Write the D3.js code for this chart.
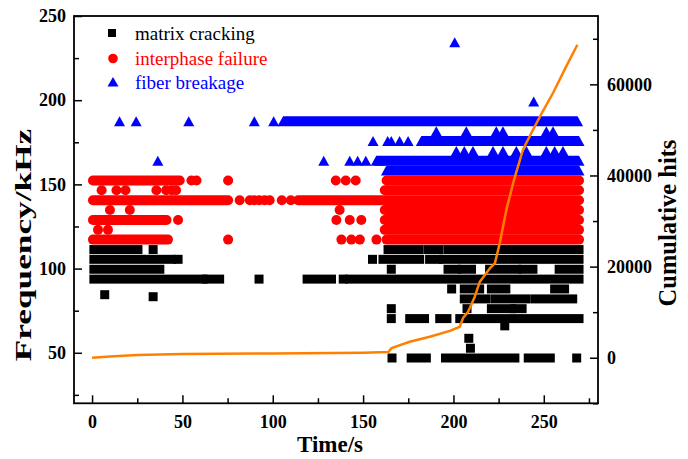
<!DOCTYPE html>
<html>
<head>
<meta charset="utf-8">
<script src="https://cdn.jsdelivr.net/npm/d3@7"></script>
<style>
  body { margin: 0; background: #fff; }
  svg { display: block; font-family: "Liberation Serif", "Times New Roman", serif; }
</style>
</head>
<body>
<div id="chart"></div>
<script>
// frequency bands are quantised, runs are [freq, tStart, tEnd] of overlapping markers
var matrixRuns = [
  [111.3, 1, 25.4], [105.5, 1, 44], [99.6, 1, 37.5], [93.75, 1, 61.5], [93.75, 63.3, 70.6],
  [93.75, 119, 132.5], [93.75, 142.6, 269.5],
  [111.3, 163.8, 181], [111.3, 186, 192], [111.3, 197, 269.5],
  [105.5, 161, 181.3], [105.5, 186.8, 191.5], [105.5, 194.5, 269.5],
  [99.6, 197, 201.5], [99.6, 205, 210], [99.6, 220, 235], [99.6, 238.5, 244], [99.6, 258.5, 269.5],
  [87.9, 206, 214.5], [87.9, 221, 229], [87.9, 256, 261.5],
  [82.0, 206, 218], [82.0, 223, 240], [82.0, 245, 266],
  [76.2, 221, 232], [76.2, 234, 238],
  [70.3, 175.8, 184], [70.3, 192.4, 196.4], [70.3, 203.5, 269.5],
  [46.9, 176.6, 185], [46.9, 195.6, 234], [46.9, 241.4, 253.6]
];
var matrixPoints = [
  [33.8, 111.3], [47.6, 105.5], [92.4, 93.75], [139, 93.75], [155.2, 105.5],
  [7, 84.5], [33.8, 83.3], [165.6, 99.6], [199, 87.9], [207.5, 76.2],
  [165.6, 76.2], [165.6, 70.3], [228.4, 66], [208.5, 58.6], [209.4, 52.7],
  [166, 46.9], [268.2, 46.9]
];

var interphaseRuns = [
  [152.3, 0.5, 48.5], [140.6, 0.5, 75.3], [128.9, 0.5, 41.2], [117.2, 0.5, 42],
  [140.6, 114, 269.5],
  [152.3, 163, 269.5], [146.5, 162, 269.5], [134.8, 162, 269.5],
  [128.9, 162, 269.5], [123.0, 162, 269.5], [117.2, 163, 269.5]
];
var interphasePoints = [
  [55, 152.3], [57.8, 152.3], [75.3, 152.3], [134.9, 152.3], [140.4, 152.3], [145.9, 152.3],
  [5.3, 146.5], [13.5, 146.5], [18.5, 146.5], [35.6, 146.5], [41, 146.5], [44, 146.5], [46.5, 146.5],
  [81.7, 140.6], [87.3, 140.6], [89.8, 140.6], [92.5, 140.6], [95.5, 140.6], [98.3, 140.6], [105, 140.6], [110, 140.6],
  [9.9, 134.8], [20.9, 134.8], [137, 134.8],
  [47.6, 128.9], [135.2, 128.9], [142.6, 128.9], [149, 128.9],
  [3.3, 123.0], [8.8, 123.0],
  [75.3, 117.2], [138, 117.2], [143.5, 117.2], [148.2, 117.2], [157.4, 117.2]
];

var fiberRuns = [
  [187.5, 105.7, 268.7],
  [175.8, 182.2, 269.5],
  [164.1, 157.3, 269.5],
  [158.2, 162.9, 269.5]
];
var fiberPoints = [
  [15.2, 187.5], [24.4, 187.5], [53.5, 187.5], [89.8, 187.5], [100.5, 187.5],
  [36.4, 164.1], [128.2, 164.1], [142.6, 164.1], [147, 164.1], [151.5, 164.1], [159.2, 164.1],
  [155.5, 175.8], [163.6, 175.8], [165.6, 175.8], [170.2, 175.8], [174.9, 175.8],
  [190.5, 181.6], [207.1, 181.6], [223.7, 181.6], [227.4, 181.6], [251.4, 181.6], [255.1, 181.6],
  [201.6, 169.9], [206, 169.9], [210.8, 169.9], [221.9, 169.9], [227.4, 169.9],
  [234.8, 169.9], [240.4, 169.9], [251.4, 169.9], [256, 169.9], [260.6, 169.9],
  [200.7, 234.4], [244.4, 199.2]
];

// cumulative hits curve
var hitTime  = [0, 10, 25, 50, 100, 150, 164, 165.7, 175.8, 186.9, 198, 203.5, 205.3, 208.1, 211.8, 214.6,
                220.1, 222.9, 225.6, 229.3, 233, 238.5, 244, 249.6, 255.1, 262.5, 268.6];
var hitCount = [0, 250, 600, 800, 950, 1100, 1250, 2100, 3500, 4600, 5900, 6800, 8700, 10100, 13400, 16700,
                19600, 20700, 25100, 32500, 38300, 45700, 50000, 54200, 58100, 64000, 68700];

var xTicks = [0, 50, 100, 150, 200, 250];
var yTicks = [50, 100, 150, 200, 250];
var y2Ticks = [0, 20000, 40000, 60000];

var legendLabels = ["matrix cracking", "interphase failure", "fiber breakage"];
var legendColors = ["#000000", "#ff0000", "#0000ff"];

var W = 688, H = 459;
var margin = {top: 16, right: 598, bottom: 403.3, left: 74}; // plot frame edges in px

var x = d3.scaleLinear().domain([-10, 280]).range([margin.left, margin.right]);
var y = d3.scaleLinear().domain([20, 250]).range([margin.bottom, margin.top]);
var y2 = d3.scaleLinear().domain([-10000, 75000]).range([margin.bottom, margin.top]);

var svg = d3.select("#chart").append("svg")
  .attr("width", W)
  .attr("height", H);

var sq = 9, cr = 5, tw = 11, th = 10;

// matrix cracking squares
var gM = svg.append("g").attr("fill", "#000");
gM.selectAll(".run").data(matrixRuns).enter().append("rect")
  .attr("x", d => x(d[1]) - sq / 2)
  .attr("y", d => y(d[0]) - sq / 2)
  .attr("width", d => x(d[2]) - x(d[1]) + sq)
  .attr("height", sq);
gM.selectAll(".pt").data(matrixPoints).enter().append("rect")
  .attr("x", d => x(d[0]) - sq / 2)
  .attr("y", d => y(d[1]) - sq / 2)
  .attr("width", sq)
  .attr("height", sq);

// interphase failure circles
var gI = svg.append("g").attr("fill", "#ff0000");
gI.selectAll(".run").data(interphaseRuns).enter().append("rect")
  .attr("x", d => x(d[1]) - cr)
  .attr("y", d => y(d[0]) - cr)
  .attr("width", d => x(d[2]) - x(d[1]) + 2 * cr)
  .attr("height", 2 * cr)
  .attr("rx", cr);
gI.selectAll(".pt").data(interphasePoints).enter().append("circle")
  .attr("cx", d => x(d[0]))
  .attr("cy", d => y(d[1]))
  .attr("r", cr);

// fiber breakage triangles
function triRun(t0, t1, f) {
  var x0 = x(t0), x1 = x(t1), yc = y(f);
  return `M${x0 - tw / 2},${yc + th / 2}L${x0},${yc - th / 2}L${x1},${yc - th / 2}L${x1 + tw / 2},${yc + th / 2}Z`;
}
var gF = svg.append("g").attr("fill", "#0000ff");
gF.selectAll(".run").data(fiberRuns).enter().append("path")
  .attr("d", d => triRun(d[1], d[2], d[0]));
gF.selectAll(".pt").data(fiberPoints).enter().append("path")
  .attr("d", d => triRun(d[0], d[0], d[1]));

// cumulative hits
var line = d3.line()
  .x((d, i) => x(hitTime[i]))
  .y(d => y2(d));
svg.append("path")
  .datum(hitCount)
  .attr("fill", "none")
  .attr("stroke", "#ff8000")
  .attr("stroke-width", 2.5)
  .attr("stroke-linejoin", "round")
  .attr("d", line);

// frame and axes
var axisStyle = g => {
  g.select(".domain").remove();
  g.selectAll("line").attr("stroke", "#000").attr("stroke-width", 1.5);
  g.selectAll("text").attr("font-size", 18).attr("font-weight", "bold")
    .attr("font-family", "Liberation Serif, Times New Roman, serif").attr("fill", "#000");
};

svg.append("g")
  .attr("transform", `translate(0,${margin.bottom})`)
  .call(d3.axisBottom(x).tickValues(d3.range(25, 280, 50)).tickSize(-5).tickFormat(""))
  .call(axisStyle);
svg.append("g")
  .attr("transform", `translate(0,${margin.bottom})`)
  .call(d3.axisBottom(x).tickValues(xTicks).tickSize(-8).tickPadding(12))
  .call(axisStyle);

svg.append("g")
  .attr("transform", `translate(${margin.left},0)`)
  .call(d3.axisLeft(y).tickValues(d3.range(25, 250, 50)).tickSize(-5).tickFormat(""))
  .call(axisStyle);
svg.append("g")
  .attr("transform", `translate(${margin.left},0)`)
  .call(d3.axisLeft(y).tickValues(yTicks).tickSize(-8).tickPadding(8))
  .call(axisStyle);

svg.append("g")
  .attr("transform", `translate(${margin.right},0)`)
  .call(d3.axisRight(y2).tickValues([-10000, 10000, 30000, 50000, 70000]).tickSize(-5).tickFormat(""))
  .call(axisStyle);
svg.append("g")
  .attr("transform", `translate(${margin.right},0)`)
  .call(d3.axisRight(y2).tickValues(y2Ticks).tickSize(-8).tickPadding(9).tickFormat(d3.format("d")))
  .call(axisStyle);

svg.append("rect")
  .attr("x", margin.left).attr("y", margin.top)
  .attr("width", margin.right - margin.left).attr("height", margin.bottom - margin.top)
  .attr("fill", "none").attr("stroke", "#000").attr("stroke-width", 1.8);

// axis titles (the left one is stretched along its length in the original)
svg.append("text")
  .attr("x", 330).attr("y", 452)
  .attr("text-anchor", "middle")
  .attr("font-size", 23).attr("font-weight", "bold")
  .text("Time/s");
svg.append("text")
  .attr("transform", "translate(31,245) rotate(-90) scale(1.47,1)")
  .attr("text-anchor", "middle")
  .attr("font-size", 24).attr("font-weight", "bold")
  .text("Frequency/kHz");
svg.append("text")
  .attr("transform", "translate(676,223) rotate(-90)")
  .attr("text-anchor", "middle")
  .attr("font-size", 24.5).attr("font-weight", "bold")
  .text("Cumulative hits");

// legend
var leg = svg.append("g");
var legY = [33, 58.5, 82];
leg.append("rect").attr("x", 112 - 4).attr("y", legY[0] - 4).attr("width", 8).attr("height", 8).attr("fill", legendColors[0]);
leg.append("circle").attr("cx", 113).attr("cy", legY[1]).attr("r", 4.8).attr("fill", legendColors[1]);
leg.append("path").attr("d", `M${113 - 5.5},${legY[2] + 4.5}L113,${legY[2] - 5}L${113 + 5.5},${legY[2] + 4.5}Z`).attr("fill", legendColors[2]);
leg.selectAll("text").data(legendLabels).enter().append("text")
  .attr("x", 135)
  .attr("y", (d, i) => legY[i])
  .attr("dy", "0.35em")
  .attr("font-size", 19)
  .attr("fill", (d, i) => legendColors[i])
  .text(d => d);
</script>
</body>
</html>
